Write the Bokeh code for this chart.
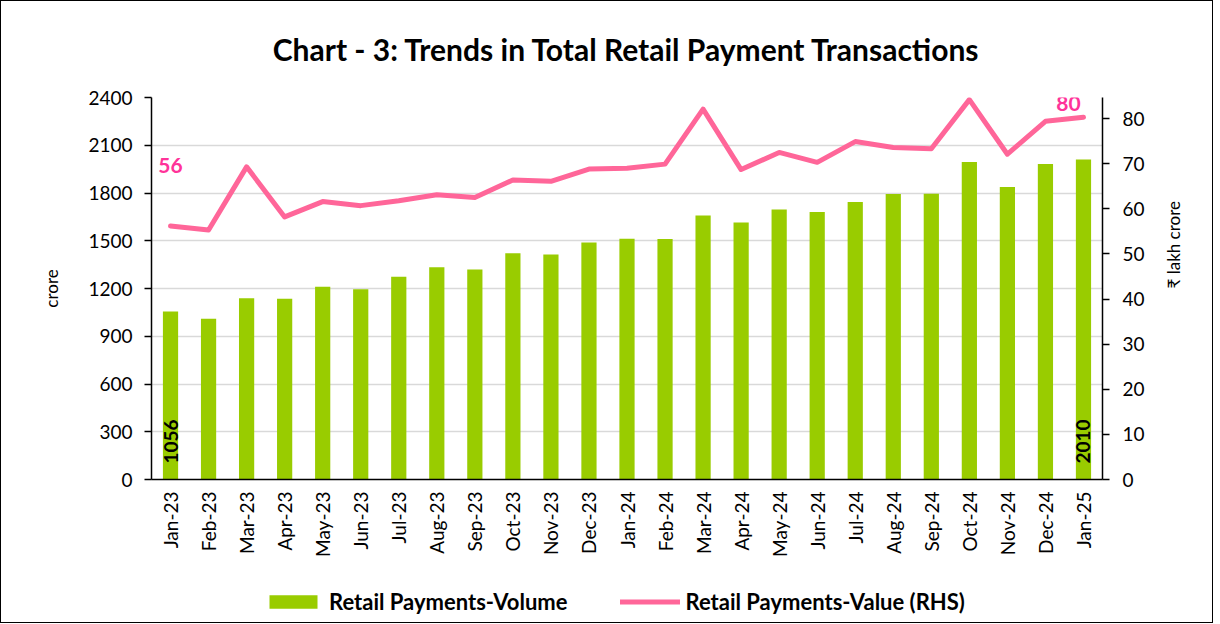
import math
from bokeh.plotting import figure
from bokeh.layouts import column
from bokeh.models import (ColumnDataSource, FactorRange, Range1d, LinearAxis, Title,
                          SingleIntervalTicker, Legend, LegendItem, LabelSet)
from bokeh.core.properties import value as V
from bokeh.embed import file_html
from bokeh.resources import INLINE

months = ["Jan-23", "Feb-23", "Mar-23", "Apr-23", "May-23", "Jun-23", "Jul-23",
          "Aug-23", "Sep-23", "Oct-23", "Nov-23", "Dec-23", "Jan-24", "Feb-24",
          "Mar-24", "Apr-24", "May-24", "Jun-24", "Jul-24", "Aug-24", "Sep-24",
          "Oct-24", "Nov-24", "Dec-24", "Jan-25"]
volume = [1056, 1010, 1138, 1136, 1211, 1195, 1274, 1333, 1319, 1422, 1413, 1489,
          1512, 1511, 1659, 1615, 1697, 1680, 1743, 1793, 1795, 1995, 1837, 1982, 2010]
value = [56.2, 55.3, 69.3, 58.2, 61.6, 60.7, 61.8, 63.1, 62.5, 66.4, 66.1, 68.8,
         69.0, 69.9, 82.1, 68.7, 72.5, 70.3, 74.9, 73.6, 73.3, 84.2, 72.1, 79.4, 80.3]
vol_name = "Retail Payments-Volume"
val_name = "Retail Payments-Value (RHS)"

FONT = "Lato"
BAR = "#99CC00"
LINE = "#FF6699"
LBL = "#FF3399"

src = ColumnDataSource(dict(m=months, vol=volume, val=value))

p = figure(x_range=FactorRange(*months, range_padding=0), y_range=Range1d(0, 2400),
           frame_width=949, frame_height=381,
           min_border_left=150, min_border_right=112, min_border_top=96, min_border_bottom=107,
           output_backend="svg", toolbar_location=None)
p.styles = {"border": "1px solid #000", "border-bottom": "none"}
p.outline_line_color = None
p.extra_y_ranges = {"val": Range1d(0, 84.67)}

p.title = Title(text="Chart - 3: Trends in Total Retail Payment Transactions", align="center",
                text_font=FONT, text_font_style="bold", text_font_size="30px",
                text_color="#000000", standoff=57, vertical_align="top")

bars = p.vbar(x="m", top="vol", width=0.4, source=src, fill_color=BAR, line_color=None)
line = p.line(x="m", y="val", source=src, y_range_name="val", line_color=LINE,
              line_width=5, line_join="round", line_cap="round")

# axes
p.yaxis.ticker = SingleIntervalTicker(interval=300, num_minor_ticks=0)
la = p.yaxis[0]
la.major_label_standoff = 12
la.axis_label = "crore"
la.axis_label_standoff = 23
ra = LinearAxis(y_range_name="val", ticker=SingleIntervalTicker(interval=10, num_minor_ticks=0))
ra.major_label_standoff = 13
ra.axis_label = "₹ lakh crore"
ra.axis_label_standoff = 26
try:
    ra.axis_label_orientation = math.pi / 2
except Exception:
    pass
p.add_layout(ra, "right")

for ax in [la, ra, p.xaxis[0]]:
    ax.axis_line_color = "#000000"
    ax.axis_line_width = 1.5
    ax.major_tick_out = 7
    ax.major_tick_in = 0
    ax.minor_tick_out = 0
    ax.minor_tick_in = 0
    ax.major_tick_line_color = "#000000"
    ax.major_tick_line_width = 1.5
    ax.major_label_text_font = FONT
    ax.major_label_text_font_size = "19px"
    ax.major_label_text_color = "#000000"
    ax.axis_label_text_font = FONT
    ax.axis_label_text_font_size = "17px"
    ax.axis_label_text_font_style = "normal"
    ax.axis_label_text_color = "#000000"

p.xaxis.major_label_orientation = math.pi / 2
p.xaxis.major_tick_out = 0
p.xaxis.major_label_standoff = 12

p.xgrid.grid_line_color = None
p.ygrid.grid_line_color = "#D9D9D9"
p.ygrid.grid_line_width = 1.5

# data labels
first, last = 0, len(months) - 1
vsrc = ColumnDataSource(dict(m=[months[first], months[last]],
                             val=[value[first], value[last]],
                             t=[f"{value[first]:.0f}", f"{value[last]:.0f}"],
                             xo=[0, -15], yo=[60, 14]))
p.add_layout(LabelSet(x="m", y="val", text="t", source=vsrc, y_range_name="val",
                      x_offset="xo", y_offset="yo",
                      text_font=V(FONT), text_font_style="bold", text_font_size="21px",
                      text_color=LBL, text_align="center", text_baseline="middle"))
bsrc = ColumnDataSource(dict(m=[months[first], months[last]], z=[0, 0],
                             t=[f"{volume[first]}", f"{volume[last]}"]))
p.add_layout(LabelSet(x="m", y="z", text="t", source=bsrc, y_offset=16, angle=math.pi / 2,
                      text_font=V(FONT), text_font_style="bold", text_font_size="19px",
                      text_color="#000000", text_align="left", text_baseline="middle"))

# legend strip under the chart (same series, hidden there; only the legend shows)
lg = figure(x_range=FactorRange(*months), y_range=Range1d(-2, -1),
            frame_width=1211, frame_height=37, min_border=0,
            x_axis_location=None, y_axis_location=None,
            output_backend="svg", toolbar_location=None)
lg.styles = {"border": "1px solid #000", "border-top": "none"}
lg.outline_line_color = None
lg.xgrid.visible = False
lg.ygrid.visible = False
lbars = lg.vbar(x="m", top="vol", width=0.4, source=src, fill_color=BAR, line_color=None)
lline = lg.line(x="m", y="val", source=src, line_color=LINE, line_width=5, line_cap="round")
lbars.visible = False
lline.visible = False

legend = Legend(items=[LegendItem(label=vol_name, renderers=[lbars]),
                       LegendItem(label=val_name, renderers=[lline])],
                orientation="horizontal", location=(262, 8),
                padding=0, margin=0, spacing=52, label_standoff=6,
                glyph_width=60, glyph_height=17,
                label_text_font=FONT, label_text_font_style="bold",
                label_text_font_size="22px", label_text_color="#000000",
                inactive_fill_alpha=0,
                border_line_color=None, background_fill_alpha=0)
lg.add_layout(legend)

layout = column(p, lg, spacing=0)
open("out.html", "w").write(file_html(layout, INLINE))
